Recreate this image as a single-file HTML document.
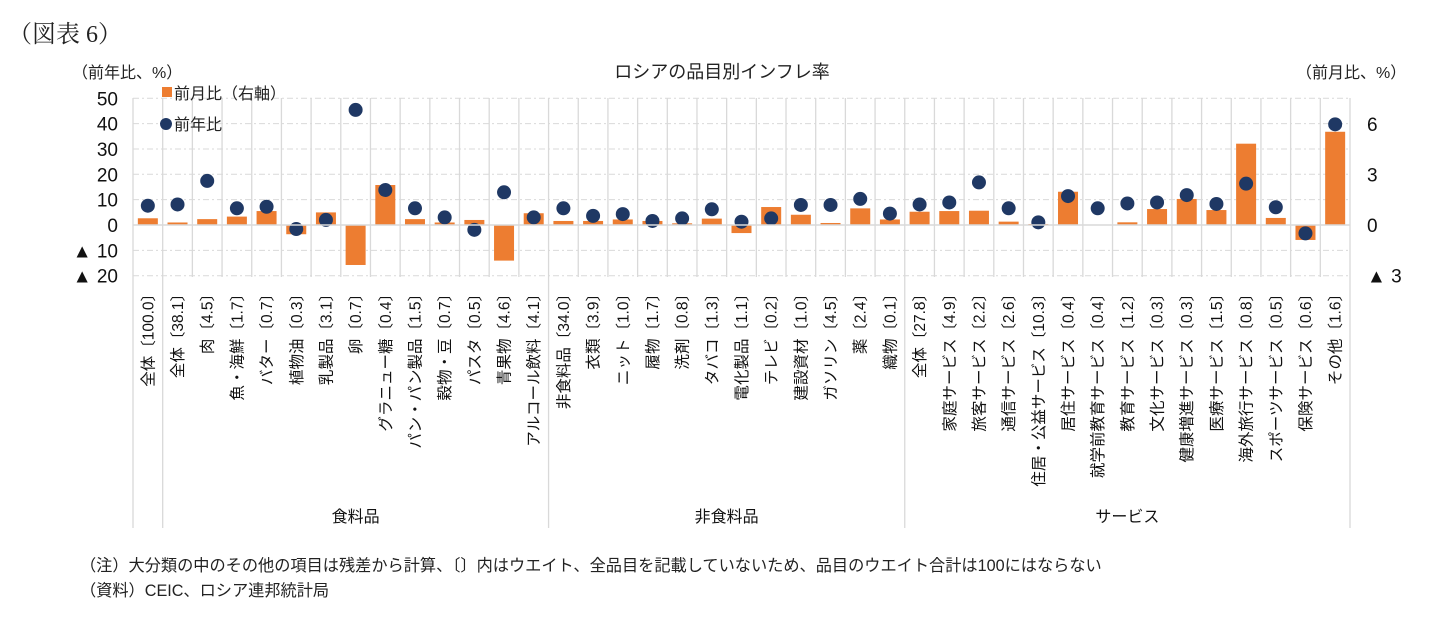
<!DOCTYPE html>
<html><head><meta charset="utf-8">
<style>
body{margin:0;background:#fff;}
svg text{font-family:"Liberation Sans","Noto Sans CJK JP",sans-serif;}
</style></head>
<body>
<svg id="c" width="1444" height="618" xmlns="http://www.w3.org/2000/svg">
<text x="8" y="42" font-size="24" fill="#222" style="font-family:'Liberation Serif','Noto Serif CJK SC',serif">（図表 6）</text>
<text x="722" y="78" text-anchor="middle" font-size="18" fill="#222">ロシアの品目別インフレ率</text>
<text x="72" y="78" font-size="16" fill="#222">（前年比、%）</text>
<text x="1296" y="78" font-size="16" fill="#222">（前月比、%）</text>
<g id="grid"></g><g id="bars"></g><g id="dots"></g><g id="axes"></g>
<g>
<rect x="162" y="87" width="10" height="10" fill="#ED7D31"/>
<text x="174" y="99" font-size="16" fill="#222">前月比（右軸）</text>
<circle cx="166" cy="124" r="6" fill="#1F3864"/>
<text x="174" y="130" font-size="16" fill="#222">前年比</text>
</g>
<text x="80" y="571" font-size="16.2" fill="#222">（注）大分類の中のその他の項目は残差から計算、〔〕内はウエイト、全品目を記載していないため、品目のウエイト合計は100にはならない</text>
<text x="80" y="596" font-size="16.2" fill="#222">（資料）CEIC、ロシア連邦統計局</text>
</svg>
<script>
const categories=["全体〔100.0〕","全体〔38.1〕","肉〔4.5〕","魚・海鮮〔1.7〕","バター〔0.7〕","植物油〔0.3〕","乳製品〔3.1〕","卵〔0.7〕","グラニュー糖〔0.4〕","パン・パン製品〔1.5〕","穀物・豆〔0.7〕","パスタ〔0.5〕","青果物〔4.6〕","アルコール飲料〔4.1〕","非食料品〔34.0〕","衣類〔3.9〕","ニット〔1.0〕","履物〔1.7〕","洗剤〔0.8〕","タバコ〔1.3〕","電化製品〔1.1〕","テレビ〔0.2〕","建設資材〔1.0〕","ガソリン〔4.5〕","薬〔2.4〕","織物〔0.1〕","全体〔27.8〕","家庭サービス〔4.9〕","旅客サービス〔2.2〕","通信サービス〔2.6〕","住居・公益サービス〔10.3〕","居住サービス〔0.4〕","就学前教育サービス〔0.4〕","教育サービス〔1.2〕","文化サービス〔0.3〕","健康増進サービス〔0.3〕","医療サービス〔1.5〕","海外旅行サービス〔0.8〕","スポーツサービス〔0.5〕","保険サービス〔0.6〕","その他〔1.6〕"];
const momValues=[0.4,0.15,0.35,0.5,0.83,-0.55,0.75,-2.38,2.38,0.35,0.15,0.3,-2.12,0.7,0.24,0.24,0.33,0.24,0.1,0.38,-0.48,1.07,0.61,0.12,0.99,0.33,0.79,0.83,0.85,0.2,0.06,1.98,0,0.16,0.95,1.55,0.89,4.84,0.42,-0.89,5.55];
const yoyValues=[7.6,8.1,17.4,6.6,7.2,-1.6,2.0,45.4,13.8,6.6,3.0,-1.9,12.9,3.0,6.6,3.6,4.3,1.6,2.6,6.2,1.3,2.6,7.9,7.9,10.3,4.5,8.1,8.9,16.8,6.6,1.05,11.4,6.6,8.5,8.9,11.8,8.3,16.3,7.0,-3.3,39.7];
const leftTicks=["50","40","30","20","10","0","▲ 10","▲ 20"];
const leftTickVals=[50,40,30,20,10,0,-10,-20];
const rightTicks=["6","3","0","▲ 3"];
const rightTickVals=[6,3,0,-3];
const groups=["食料品","非食料品","サービス"];
const groupStarts=[1,14,26];
const groupEnds=[14,26,41];

const NS="http://www.w3.org/2000/svg";
const X0=133,X1=1350,Y0=225;
const bw=(X1-X0)/categories.length;
const yL=v=>Y0-v*2.535;
const yR=v=>Y0-v*16.8;
const xc=i=>X0+(i+0.5)*bw;
function mk(tag,parent,attrs){const e=document.createElementNS(NS,tag);for(const k in attrs)e.setAttribute(k,attrs[k]);document.getElementById(parent).appendChild(e);return e;}
leftTickVals.forEach((v,i)=>{
 if(v!==0){const g=mk('line','grid',{x1:X0,x2:X1,y1:yL(v),y2:yL(v),stroke:'#d9d9d9','stroke-dasharray':'6,3,2,3'});
 
 }
 const t=mk('text','axes',{x:118,y:yL(v)+7,'text-anchor':'end','font-size':19,fill:'#111'});t.textContent=leftTicks[i];
 
 
});
rightTickVals.forEach((v,i)=>{
 const t=mk('text','axes',{x:1367,y:yR(v)+7,'font-size':19,fill:'#111'});t.textContent=rightTicks[i];
 
 
});
for(let i=0;i<=categories.length;i++){
 const x=X0+i*bw;const sep=(i===0||i===1||groupStarts.includes(i)||i===categories.length);
 const l=mk('line','grid',{x1:x,x2:x,y1:98,y2:sep?528:277,stroke:'#d9d9d9','stroke-width':1.3});
 
 
}
mk('line','axes',{x1:X0,x2:X1,y1:Y0,y2:Y0,stroke:'#d9d9d9','stroke-width':1.5});
categories.forEach((c,i)=>{
 const v=momValues[i];const y=Math.min(yR(v),Y0);const h=Math.abs(yR(v)-Y0);
 const b=mk('rect','bars',{x:xc(i)-10,y:y,width:20,height:Math.max(h,0.5),fill:'#ED7D31'});
 
 
 const d=mk('circle','dots',{cx:xc(i),cy:yL(yoyValues[i]),r:7,fill:'#1F3864'});
 
 
 const t=mk('text','axes',{x:0,y:0,'text-anchor':'end','font-size':15.5,fill:'#111',transform:`translate(${xc(i)+5.5},286) rotate(-90)`});t.textContent=c;
 
 
});
groups.forEach((g,i)=>{
 const x=X0+(groupStarts[i]+groupEnds[i])/2*bw;
 const t=mk('text','axes',{x:x,y:522,'text-anchor':'middle','font-size':16,fill:'#111'});t.textContent=g;
 
 
});
</script>
</body></html>
